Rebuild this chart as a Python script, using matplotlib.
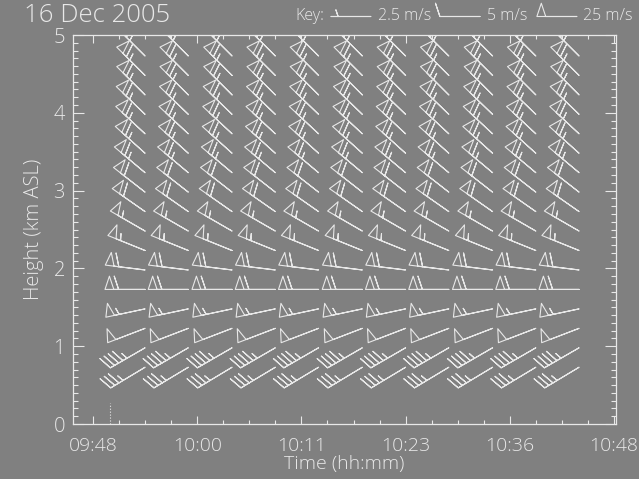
import numpy as np
import matplotlib
matplotlib.use("Agg")
import matplotlib.pyplot as plt
from matplotlib.ticker import MultipleLocator, FixedLocator

plt.rcParams["font.family"] = ["Open Sans", "DejaVu Sans"]
plt.rcParams["font.weight"] = "light"

# ---- data ----
times_h = [9.900, 9.983, 10.067, 10.150, 10.233, 10.317, 10.400, 10.483, 10.567, 10.650, 10.733]
heights_km = [0.73, 0.98, 1.23, 1.48, 1.73, 1.98, 2.23, 2.48, 2.73, 2.98,
              3.23, 3.48, 3.73, 3.98, 4.23, 4.48, 4.73]
speed_ms = [17.5, 22.5, 25.0, 27.5, 30.0, 30.0, 27.5, 27.5, 30.0, 30.0,
            32.5, 32.5, 32.5, 32.5, 32.5, 32.5, 32.5]
wind_dir_deg = [239, 240, 249, 258, 270, 277, 292, 300, 305, 308,
                310, 312, 313, 314, 315, 315, 315]
xtick_vals = [9.8, 10.0, 10.2, 10.4, 10.6, 10.8]
xtick_labels = ["09:48", "10:00", "10:11", "10:23", "10:36", "10:48"]
ytick_vals = [0, 1, 2, 3, 4, 5]
first_obs_h = 9.833
key_speeds = [2.5, 5.0, 25.0]
key_labels = ["2.5 m/s", "5 m/s", "25 m/s"]
date_title = "16 Dec 2005"

BG = "#808080"
FG = "#e8e8e8"

fig = plt.figure(figsize=(6.39, 4.79), dpi=100, facecolor=BG)
ax = fig.add_axes([0.1135, 0.1148, 0.9640 - 0.1135, 0.9269 - 0.1148], facecolor=BG)

T, H = np.meshgrid(times_h, heights_km)
S = np.repeat(np.array(speed_ms)[:, None], len(times_h), axis=1)
D = np.repeat(np.deg2rad(np.array(wind_dir_deg))[:, None], len(times_h), axis=1)
U = -S * np.sin(D)
V = -S * np.cos(D)

incr = dict(half=2.5, full=5, flag=25)
bsizes = dict(height=0.33, width=0.22, spacing=0.12, emptybarb=0.0)
ax.barbs(T, H, U, V, length=7.6, barbcolor=FG, flagcolor="none",
         barb_increments=incr, sizes=bsizes, linewidth=0.8, pivot="tip")

ax.plot([first_obs_h, first_obs_h], [0, 0.27], ls=":", color=FG, lw=0.8)

ax.set_xlim(9.7607, 10.8038)
ax.set_ylim(0, 5)
ax.xaxis.set_major_locator(FixedLocator(xtick_vals))
ax.set_xticklabels(xtick_labels)
ax.xaxis.set_minor_locator(MultipleLocator(0.05))
ax.yaxis.set_major_locator(FixedLocator(ytick_vals))
ax.yaxis.set_minor_locator(MultipleLocator(0.1))

for sp in ax.spines.values():
    sp.set_color(FG)
    sp.set_linewidth(0.9)

ax.tick_params(axis="both", which="both", direction="in", top=True, right=True,
               colors=FG, labelcolor=FG, width=0.8)
ax.tick_params(axis="x", which="major", length=5.8, pad=9.5, labelsize=14)
ax.tick_params(axis="x", which="minor", length=2.9)
ax.tick_params(axis="y", which="major", length=7.7, pad=5.5, labelsize=14.5)
ax.tick_params(axis="y", which="minor", length=3.8)

ax.set_xlabel("Time (hh:mm)", color=FG, fontsize=14, fontweight="light", labelpad=-0.5)
ax.set_ylabel("Height (km ASL)", color=FG, fontsize=14.5, fontweight="light", labelpad=7)

# title and key
fig.text(24 / 639, 1 - 16 / 479, date_title, color=FG, fontsize=18.5,
         fontweight="light", ha="left", va="center")

kax = fig.add_axes([0, 0, 1, 1], facecolor="none")
kax.set_xlim(0, 639)
kax.set_ylim(479, 0)
kax.axis("off")
kax.text(295, 16, "Key:", color=FG, fontsize=11.5, ha="left", va="center")
key_x = [371, 480, 577]
key_tx = [378, 487, 583]
for sx, tx, sp_, lab in zip(key_x, key_tx, key_speeds, key_labels):
    kax.barbs([sx], [16.5], [sp_], [0], length=7.6, barbcolor=FG, flagcolor="none",
              barb_increments=incr, sizes=bsizes, linewidth=0.8, pivot="tip")
    kax.text(tx, 16, lab, color=FG, fontsize=11.5, ha="left", va="center")

fig.savefig("out.png", dpi=100, facecolor=BG)
